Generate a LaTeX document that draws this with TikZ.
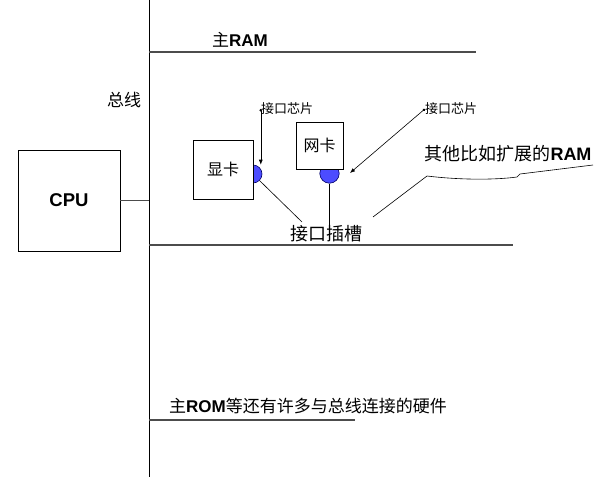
\documentclass[tikz,border=0pt]{standalone}
\usepackage{fontspec}
\setmainfont{Liberation Sans}
\newfontfamily\cjk{Noto Sans CJK SC}
\newcommand\zh[1]{{\cjk #1}}
\usetikzlibrary{arrows.meta,positioning}

\begin{document}
\begin{tikzpicture}[x=1pt,y=-1pt,font=\fontsize{17}{20}\selectfont,>={Latex[length=5pt,width=4pt]},
  b/.style={draw,line width=0.8pt,fill=white,inner sep=0pt},
  h/.style={draw=black!70,line width=1.3pt},
  chip/.style={circle,draw=blue!40!black,fill=blue!70,line width=0.6pt,inner sep=0pt},
  t/.style={inner sep=0pt},
  s/.style={t,font=\fontsize{13}{15}\selectfont},
  pt/.style={{Circle[length=2.5pt]}->,line width=0.6pt}]
\useasboundingbox (0,0) rectangle (603,477);
% bus
\coordinate (bt) at (149,0);
\coordinate (bb) at (149,477);
\draw[line width=1pt] (bt)--(bb);
\node[t] (bus) at (124,100) {\zh{总线}};
% main RAM
\coordinate (ram0) at (149,52);
\coordinate (ram1) at (476,52);
\draw[h] (ram0)--(ram1);
\node[t] (ram) at (240,40) {\zh{主}\textbf{RAM}};
% CPU
\node[b,minimum width=102pt,minimum height=101pt,font=\fontsize{18.5}{20}\selectfont\bfseries] (cpu) at (69,200.5) {CPU};
\draw[h,line width=1pt] (cpu.east) -- (cpu.east -| bt);
% cards with their chips
\node[chip,minimum size=18pt] (c1) at (253,174) {};
\node[chip,minimum size=19.4pt] (c2) at (329.5,173.5) {};
\node[b,minimum width=60pt,minimum height=59pt,font=\fontsize{16}{18}\selectfont] (vga) at (223,169.5) {\zh{显卡}};
\node[b,minimum width=47pt,minimum height=47pt,font=\fontsize{16}{18}\selectfont] (nic) at (319.5,145.5) {\zh{网卡}};
% slot
\coordinate (slot0) at (149,245);
\coordinate (slot1) at (513,245);
\draw[h] (slot0)--(slot1);
\node[t,font=\fontsize{18}{20}\selectfont] (slot) at (326,234) {\zh{接口插槽}};
\coordinate (k1) at (302,222);
\draw[line width=0.6pt] (c1.-45) -- (k1);
\draw[line width=0.9pt] (c2.south) -- (c2.south |- slot.north);
% chip labels
\node[s] (la) at (287,109) {\zh{接口芯片}};
\node[s] (lb) at (451,109) {\zh{接口芯片}};
\coordinate (ab) at (350,173);
\draw[pt] (la.west) -- (la.west |- c1.north);
\draw[pt] (lb.west) -- (ab);
% other RAM
\node[t,font=\fontsize{18}{20}\selectfont] (ext) at (508,154) {\zh{其他比如扩展的}\textbf{RAM}};
\coordinate (k2) at (373,217);
\coordinate (k3) at (427,176);
\coordinate (k4) at (517,177);
\coordinate (k5) at (520,174);
\coordinate (k6) at (593,165);
\draw[line width=0.6pt] (k2) -- (k3) .. controls (460,180) and (495,180) .. (k4) -- (k5) -- (k6);
% main ROM
\coordinate (rom0) at (149,420);
\coordinate (rom1) at (355,420);
\draw[h] (rom0)--(rom1);
\node[t] (rom) at (308,406) {\zh{主}\textbf{ROM}\zh{等还有许多与总线连接的硬件}};
\end{tikzpicture}
\end{document}
